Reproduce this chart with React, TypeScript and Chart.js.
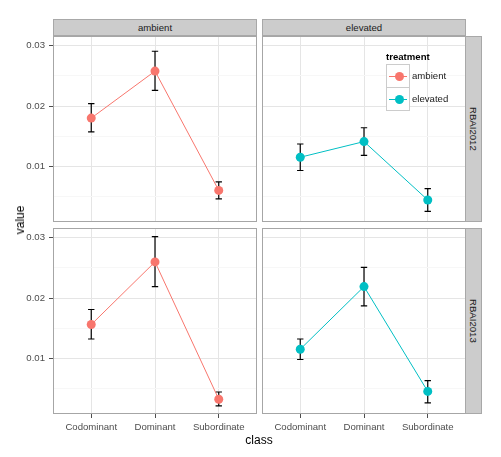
import React, { useEffect, useRef } from "react";
import { Chart, registerables } from "chart.js";
Chart.register(...registerables);

const categories = ["Codominant", "Dominant", "Subordinate"];
const treatments = ["ambient", "elevated"];
const years = ["RBAI2012", "RBAI2013"];
const yTicks = [0.005, 0.01, 0.015, 0.02, 0.025, 0.03];

const ambient2012 = [0.018, 0.0258, 0.006];
const ambient2012Lo = [0.0157, 0.0226, 0.0046];
const ambient2012Hi = [0.0204, 0.0291, 0.0074];
const elevated2012 = [0.0115, 0.0141, 0.0044];
const elevated2012Lo = [0.0093, 0.0118, 0.0025];
const elevated2012Hi = [0.0137, 0.0164, 0.0063];
const ambient2013 = [0.0156, 0.026, 0.0032];
const ambient2013Lo = [0.0132, 0.0219, 0.0021];
const ambient2013Hi = [0.0181, 0.0302, 0.0044];
const elevated2013 = [0.0115, 0.0219, 0.0045];
const elevated2013Lo = [0.0098, 0.0187, 0.0026];
const elevated2013Hi = [0.0132, 0.0251, 0.0063];

const colors = ["#F8766D", "#00BFC4"];
const FONT = "'Liberation Sans', Arial, Helvetica, sans-serif";
const Y_MIN = 0.00075;
const Y_MAX = 0.03163;

const isMajor = (v: number) => Math.abs(v * 100 - Math.round(v * 100)) < 1e-6;

const panelPlugin = {
  id: "panelDecor",
  beforeDatasetsDraw(chart: any) {
    const { ctx, scales } = chart;
    const ds = chart.data.datasets[0] as any;
    ctx.save();
    ctx.strokeStyle = "#000000";
    ctx.lineWidth = 1.2;
    ds.data.forEach((p: any, i: number) => {
      const x = scales.x.getPixelForValue(p.x);
      const xl = scales.x.getPixelForValue(p.x - 0.05);
      const xr = scales.x.getPixelForValue(p.x + 0.05);
      const yl = scales.y.getPixelForValue(ds.errLo[i]);
      const yh = scales.y.getPixelForValue(ds.errHi[i]);
      ctx.beginPath();
      ctx.moveTo(x, yl);
      ctx.lineTo(x, yh);
      ctx.moveTo(xl, yh);
      ctx.lineTo(xr, yh);
      ctx.moveTo(xl, yl);
      ctx.lineTo(xr, yl);
      ctx.stroke();
    });
    ctx.restore();
  },
  afterDraw(chart: any) {
    const { ctx, chartArea } = chart;
    ctx.save();
    ctx.strokeStyle = "#A6A6A6";
    ctx.lineWidth = 1;
    ctx.strokeRect(
      chartArea.left + 0.5,
      chartArea.top + 0.5,
      chartArea.right - chartArea.left - 1,
      chartArea.bottom - chartArea.top - 1
    );
    ctx.restore();
  },
};

type PanelProps = {
  left: number;
  top: number;
  width: number;
  height: number;
  showY: boolean;
  showX: boolean;
  values: number[];
  lo: number[];
  hi: number[];
  color: string;
  label: string;
};

function Panel(props: PanelProps) {
  const ref = useRef<HTMLCanvasElement>(null);
  useEffect(() => {
    const { showX, showY, values, lo, hi, color, label } = props;
    const chart = new Chart(ref.current as HTMLCanvasElement, {
      type: "line",
      data: {
        datasets: [
          {
            label,
            data: values.map((v, i) => ({ x: i + 1, y: v })),
            borderColor: color,
            backgroundColor: color,
            pointBackgroundColor: color,
            pointBorderWidth: 0,
            pointRadius: 4.5,
            pointHoverRadius: 4.5,
            borderWidth: 1,
            tension: 0,
            errLo: lo,
            errHi: hi,
          } as any,
        ],
      },
      options: {
        animation: false,
        responsive: false,
        maintainAspectRatio: false,
        events: [],
        layout: { padding: 0, autoPadding: false } as any,
        plugins: { legend: { display: false }, tooltip: { enabled: false }, title: { display: false } },
        scales: {
          x: {
            type: "linear",
            min: 0.4,
            max: 3.6,
            afterBuildTicks: (s: any) => {
              s.ticks = [1, 2, 3].map((v) => ({ value: v }));
            },
            afterFit: (s: any) => {
              s.height = showX ? 24 : 0;
              s.paddingLeft = 0;
              s.paddingRight = 0;
            },
            ticks: {
              display: showX,
              autoSkip: false,
              maxRotation: 0,
              padding: 4,
              color: "#4D4D4D",
              font: { family: FONT, size: 9.6 },
              callback: (v: any) => categories[Math.round(Number(v)) - 1],
            },
            grid: {
              color: "#E5E5E5",
              lineWidth: 1,
              drawTicks: showX,
              tickLength: 4,
              tickColor: "#4D4D4D",
            },
            border: { display: false },
          },
          y: {
            type: "linear",
            min: Y_MIN,
            max: Y_MAX,
            afterBuildTicks: (s: any) => {
              s.ticks = yTicks.map((v) => ({ value: v }));
            },
            afterFit: (s: any) => {
              s.width = showY ? 53 : 0;
              s.paddingTop = 0;
              s.paddingBottom = 0;
            },
            ticks: {
              display: showY,
              padding: 4,
              color: "#4D4D4D",
              font: { family: FONT, size: 9.6 },
              callback: (v: any) => (isMajor(Number(v)) ? Number(v).toFixed(2) : ""),
            },
            grid: {
              color: (ctx: any) => (ctx.tick && !isMajor(ctx.tick.value) ? "#F7F7F7" : "#E5E5E5"),
              lineWidth: 1,
              drawTicks: showY,
              tickLength: 4,
              tickColor: (ctx: any) =>
                ctx.tick && !isMajor(ctx.tick.value) ? "rgba(0,0,0,0)" : "#4D4D4D",
            },
            border: { display: false },
          },
        },
      },
      plugins: [panelPlugin],
    });
    return () => chart.destroy();
  }, []);
  return (
    <canvas
      ref={ref}
      width={props.width}
      height={props.height}
      style={{
        position: "absolute",
        left: props.left,
        top: props.top,
        width: props.width,
        height: props.height,
      }}
    />
  );
}

const stripBase: React.CSSProperties = {
  position: "absolute",
  boxSizing: "border-box",
  background: "#CCCCCC",
  border: "1px solid #A8A8A8",
  color: "#1A1A1A",
  fontSize: 9.6,
  fontFamily: FONT,
  display: "flex",
  alignItems: "center",
  justifyContent: "center",
};

function LegendKey({ top, color }: { top: number; color: string }) {
  return (
    <div
      style={{
        position: "absolute",
        left: 386,
        top,
        width: 24,
        height: 24,
        boxSizing: "border-box",
        border: "1px solid #CCCCCC",
        background: "#FFFFFF",
      }}
    >
      <div style={{ position: "absolute", left: 2, right: 2, top: 11, height: 1, background: color }} />
      <div
        style={{
          position: "absolute",
          left: 7.5,
          top: 7,
          width: 9,
          height: 9,
          borderRadius: "50%",
          background: color,
        }}
      />
    </div>
  );
}

export default function App() {
  const L = { left: 0, width: 257 };
  const R = { left: 262, width: 204 };
  return (
    <div
      style={{
        position: "absolute",
        left: 0,
        top: 0,
        width: 501,
        height: 457,
        background: "#FFFFFF",
        fontFamily: FONT,
        overflow: "hidden",
      }}
    >
      <Panel {...L} top={36} height={186} showY showX={false} values={ambient2012} lo={ambient2012Lo} hi={ambient2012Hi} color={colors[0]} label={treatments[0]} />
      <Panel {...R} top={36} height={186} showY={false} showX={false} values={elevated2012} lo={elevated2012Lo} hi={elevated2012Hi} color={colors[1]} label={treatments[1]} />
      <Panel {...L} top={228} height={210} showY showX values={ambient2013} lo={ambient2013Lo} hi={ambient2013Hi} color={colors[0]} label={treatments[0]} />
      <Panel {...R} top={228} height={210} showY={false} showX values={elevated2013} lo={elevated2013Lo} hi={elevated2013Hi} color={colors[1]} label={treatments[1]} />

      <div style={{ ...stripBase, left: 53, top: 19, width: 204, height: 17 }}>{treatments[0]}</div>
      <div style={{ ...stripBase, left: 262, top: 19, width: 204, height: 17 }}>{treatments[1]}</div>
      <div style={{ ...stripBase, left: 465, top: 36, width: 17, height: 186 }}>
        <span style={{ writingMode: "vertical-rl" }}>{years[0]}</span>
      </div>
      <div style={{ ...stripBase, left: 465, top: 228, width: 17, height: 186 }}>
        <span style={{ writingMode: "vertical-rl" }}>{years[1]}</span>
      </div>

      <div
        style={{
          position: "absolute",
          left: 20,
          top: 220,
          transform: "translate(-50%, -50%) rotate(-90deg)",
          fontSize: 12,
          color: "#000",
          whiteSpace: "nowrap",
          lineHeight: 1,
        }}
      >
        value
      </div>
      <div
        style={{
          position: "absolute",
          left: 259,
          top: 440,
          transform: "translate(-50%, -50%)",
          fontSize: 12,
          color: "#000",
          whiteSpace: "nowrap",
          lineHeight: 1,
        }}
      >
        class
      </div>

      <div
        style={{
          position: "absolute",
          left: 386,
          top: 51,
          fontSize: 9.6,
          fontWeight: "bold",
          color: "#000",
          lineHeight: "11px",
        }}
      >
        treatment
      </div>
      <LegendKey top={64} color={colors[0]} />
      <LegendKey top={87} color={colors[1]} />
      <div style={{ position: "absolute", left: 412, top: 70, fontSize: 9.6, color: "#1A1A1A", lineHeight: "12px" }}>
        {treatments[0]}
      </div>
      <div style={{ position: "absolute", left: 412, top: 93, fontSize: 9.6, color: "#1A1A1A", lineHeight: "12px" }}>
        {treatments[1]}
      </div>
    </div>
  );
}
